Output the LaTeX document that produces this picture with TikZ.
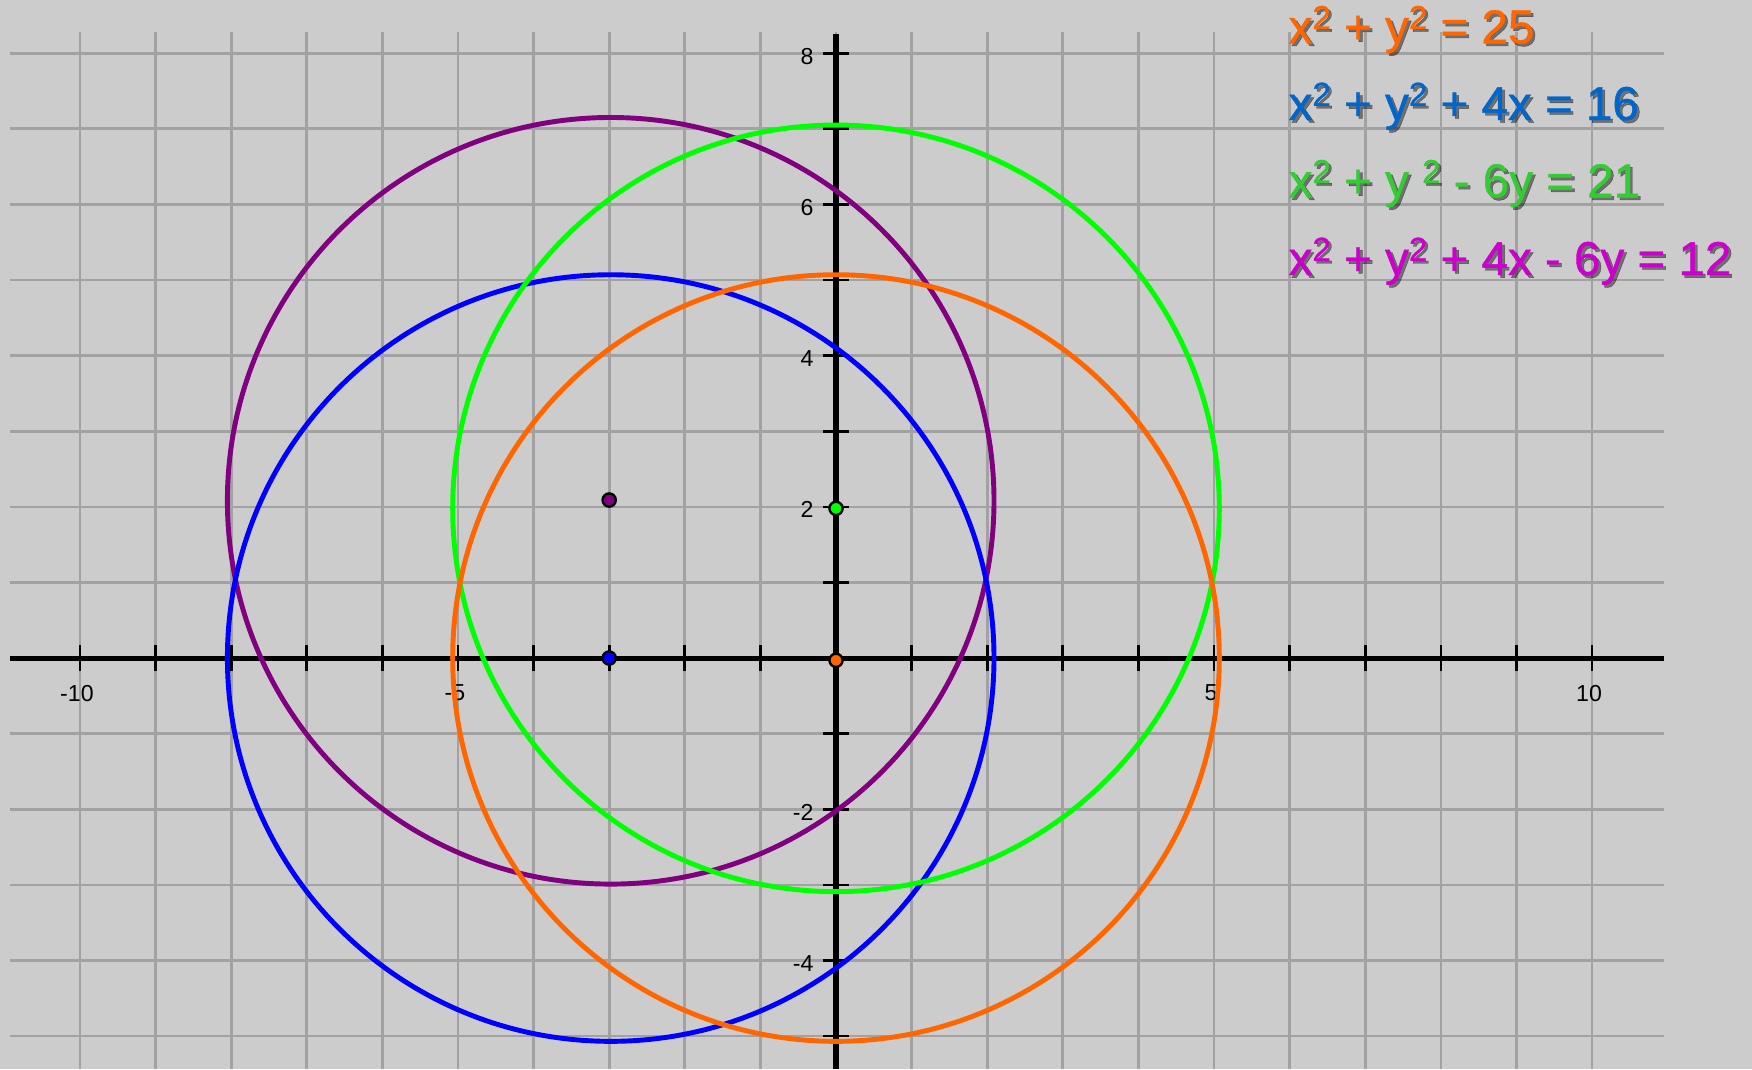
\documentclass[tikz,border=0pt]{standalone}
\usepackage{fontspec}
\setmainfont{Liberation Sans}
\newfontfamily\eqfont[FakeBold=0.8]{Liberation Sans}
\newcommand\supii{\raisebox{0.3em}{\fontsize{12.5}{12}\selectfont 2}}
\begin{document}
\begin{tikzpicture}[x=1cm,y=1cm,
  gridline/.style={draw=gridgray,line width=1pt},
  axisline/.style={draw=black,line width=1.9pt},
  tickline/.style={draw=black,line width=1pt},
  curve/.style={line width=1.85pt},
  pt/.style={circle,draw=black,line width=0.9pt,inner sep=0pt,minimum size=0.175cm},
  ticklabel/.style={font=\fontsize{8.7}{10}\selectfont,inner sep=0pt},
  eqtext/.style={font=\eqfont\fontsize{17.9}{20}\selectfont,anchor=base west,inner sep=0pt},
  eqshadow/.style={eqtext,text=black,opacity=0.45}
]
\definecolor{bg}{HTML}{CCCCCC}
\definecolor{gridgray}{HTML}{A2A2A2}
\definecolor{corange}{HTML}{FF6600}
\definecolor{cblue}{HTML}{0000FF}
\definecolor{cgreen}{HTML}{00FF00}
\definecolor{cpurple}{HTML}{800080}
\definecolor{tblue}{HTML}{0066CC}
\definecolor{tgreen}{HTML}{33CC33}
\definecolor{tpurple}{HTML}{CC00CC}
\useasboundingbox (-11.058,-5.437) rectangle (12.116,8.704);
\fill[bg] (-11.058,-5.437) rectangle (12.116,8.704);
% grid
\foreach \x in {-10,...,10} \draw[gridline] (\x,8.28) -- (\x,-5.437);
\foreach \y in {-5,...,8} \draw[gridline] (-10.93,\y) -- (10.95,\y);
% axes
\draw[axisline] (-10.92,0) -- (10.95,0);
\draw[axisline] (0,8.25) -- (0,-5.437);
\foreach \x in {-10,...,-1,1,2,...,10} \draw[tickline] (\x,-0.175) -- (\x,0.175);
\foreach \y in {-5,...,-1,1,2,...,8} \draw[tickline] (-0.175,\y) -- (0.175,\y);
% tick labels
\foreach \x/\l in {-10/-10,-5/-5,5/5,10/10} \node[ticklabel] (xl\x) at (\x-0.04,-0.463) {\l};
\foreach \y/\l in {8/8,6/6,4/4,2/2,-2/-2,-4/-4} \node[ticklabel,anchor=east] (yl\y) at (-0.29,\y-0.04) {\l};
% circles
\draw[curve,cpurple] (-2.98,2.08) circle (5.07);
\draw[curve,cblue] (-2.98,0) circle (5.07);
\draw[curve,cgreen] (0,1.98) circle (5.07);
\draw[curve,corange] (0,0) circle (5.07);
% centres
\node[pt,fill=cpurple] (pP) at (-3,2.09) {};
\node[pt,fill=cblue] (pB) at (-3,0) {};
\node[pt,fill=cgreen] (pG) at (0,1.98) {};
\node[pt,fill=corange] (pO) at (0,-0.03) {};
% equations
\foreach \yy/\c/\t [count=\i] in {
  8.131/corange/{x\supii{} + y\supii{} = 25},
  7.116/tblue/{x\supii{} + y\supii{} + 4x = 16},
  6.094/tgreen/{x\supii{} + y \supii{} - 6y = 21},
  5.066/tpurple/{x\supii{} + y\supii{} + 4x - 6y = 12}}{
  \node[eqshadow] (s\i) at (5.98+0.035,\yy-0.035) {\t};
  \node[eqtext,text=\c] (e\i) at (5.98,\yy) {\t};
}
\end{tikzpicture}
\end{document}
